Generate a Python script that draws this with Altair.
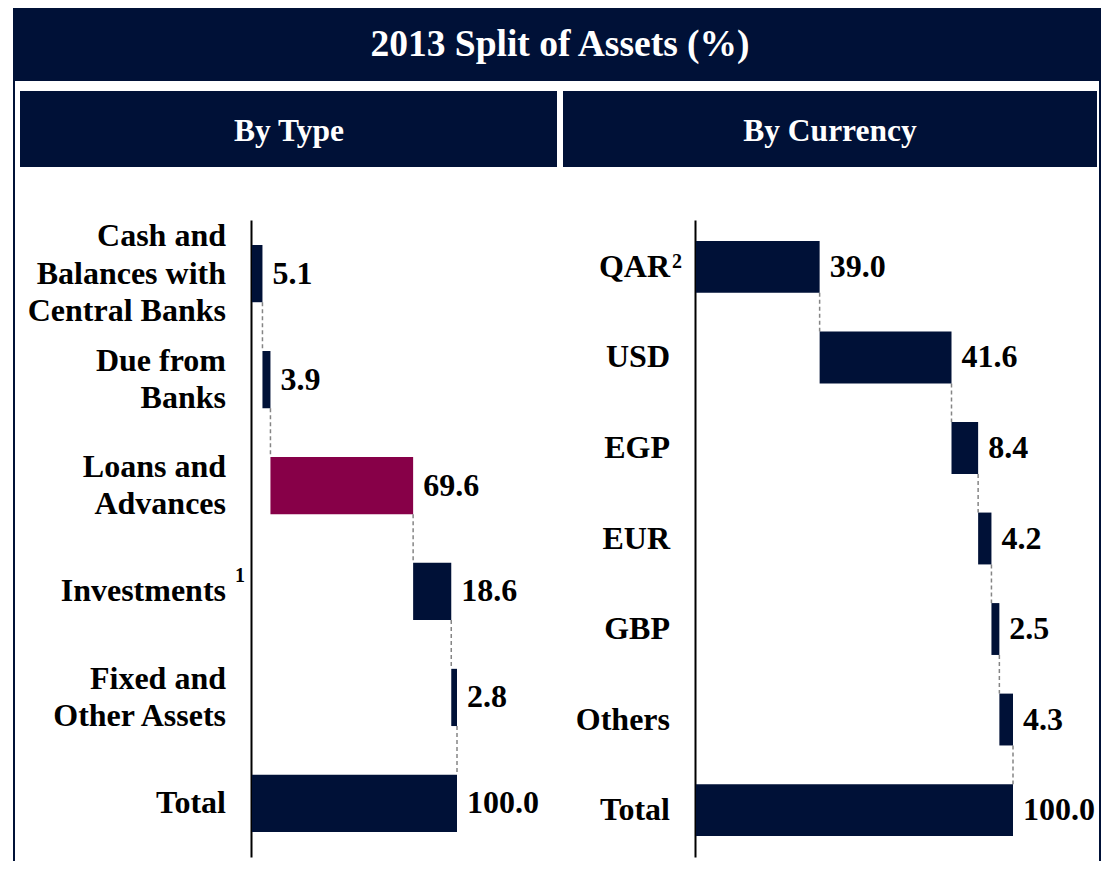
import altair as alt
import pandas as pd

# ---------------- data ----------------
type_keys = ["Cash", "Due", "Loans", "Investments", "Fixed", "Total"]
type_labels = [
    "Cash and\u00a0\nBalances with\u00a0\nCentral Banks",
    "Due from\u00a0\nBanks",
    "Loans and\u00a0\nAdvances",
    "Investments",
    "Fixed and\u00a0\nOther Assets",
    "Total",
]
type_values = [5.1, 3.9, 69.6, 18.6, 2.8, 100.0]
type_sups = ["", "", "", "1", "", ""]

cur_keys = ["QAR", "USD", "EGP", "EUR", "GBP", "Others", "Total"]
cur_labels = ["QAR", "USD", "EGP", "EUR", "GBP", "Others", "Total"]
cur_values = [39.0, 41.6, 8.4, 4.2, 2.5, 4.3, 100.0]
cur_sups = ["2", "", "", "", "", "", ""]

title_text = "2013 Split of Assets (%)"
left_header = "By Type"
right_header = "By Currency"

NAVY = "#001137"
MAROON = "#870048"
FONT = "Liberation Serif"
LABEL_SIZE = 32
LINE_H = 37.5


def waterfall_table(keys, labels, values, sups):
    rows = []
    cum = 0.0
    n = len(keys)
    for i in range(n):
        if i == n - 1:
            start, end = 0.0, values[i]
        else:
            start, end = cum, cum + values[i]
            cum = end
        rows.append(dict(key=keys[i], label=labels[i], value=values[i],
                         start=round(start, 4), end=round(end, 4), sup=sups[i],
                         nlines=labels[i].count("\n") + 1,
                         next=keys[i + 1] if i < n - 1 else None))
    return pd.DataFrame(rows)


def panel(df, keys, x_range, y_range, pad_in, pad_out, axis_offset,
          highlight, sup_dx, sup_dy):
    base = alt.Chart(df).transform_calculate(zero="0")
    y_scale = alt.Scale(domain=keys, range=y_range,
                        paddingInner=pad_in, paddingOuter=pad_out)
    y_axis = alt.Axis(orient="left", offset=axis_offset, labels=False,
                      ticks=False, title=None, domain=True,
                      domainColor="#000000", domainWidth=2, grid=False)
    x_scale = alt.Scale(domain=[0, 100], range=x_range, nice=False)

    def Y(**kw):
        return alt.Y("key:N", scale=y_scale, axis=y_axis, **kw)

    def X(f):
        return alt.X(f, scale=x_scale, axis=None)

    rules = base.transform_filter("isValid(datum.next)").mark_rule(
        color="#858585", strokeDash=[4, 3], strokeWidth=1.5
    ).encode(
        x=X("end:Q"),
        y=Y(bandPosition=1),
        y2=alt.Y2("next:N", bandPosition=0),
    )
    bars = base.mark_bar().encode(
        x=X("start:Q"),
        x2="end:Q",
        y=Y(),
        color=alt.condition(alt.datum.key == highlight,
                            alt.value(MAROON), alt.value(NAVY)),
    )
    vals = base.mark_text(
        align="left", baseline="middle", dx=10, font=FONT,
        fontWeight="bold", fontSize=LABEL_SIZE, color="#000000"
    ).encode(
        x=X("end:Q"), y=Y(),
        text=alt.Text("value:Q", format=".1f"),
    )
    cat_layers = []
    for c in sorted(set(df["nlines"])):
        cat_layers.append(
            base.transform_filter(f"datum.nlines == {c}").mark_text(
                align="right", baseline="middle", dx=-26,
                dy=-(c - 1) / 2 * LINE_H, font=FONT,
                fontWeight="bold", fontSize=LABEL_SIZE, lineBreak="\n",
                lineHeight=LINE_H, color="#000000"
            ).encode(x=X("zero:Q"), y=Y(), text="label:N")
        )
    sups = base.transform_filter("datum.sup != ''").mark_text(
        align="center", baseline="middle", dx=sup_dx, dy=sup_dy, font=FONT,
        fontWeight="bold", fontSize=20, color="#000000"
    ).encode(
        x=X("zero:Q"), y=Y(), text="sup:N",
    )
    return alt.layer(rules, bars, vals, *cat_layers, sups)


type_df = waterfall_table(type_keys, type_labels, type_values, type_sups)
cur_df = waterfall_table(cur_keys, cur_labels, cur_values, cur_sups)

W, H = 1093, 853

left = panel(type_df, type_keys, [244, 449], [212, 849], 0.46, 0.236, -243,
             "Loans", -12, -15)
right = panel(cur_df, cur_keys, [688, 1005], [212, 849], 0.427, 0.232, -687,
              "", -19, -5)

dummy = pd.DataFrame({"d": [0]})


def box(x1, x2, y1, y2, color):
    return alt.Chart(dummy).mark_rect(color=color).encode(
        x=alt.value(x1), x2=alt.value(x2), y=alt.value(y1), y2=alt.value(y2))


def vline(x, y1, y2, color, w):
    return alt.Chart(dummy).mark_rule(color=color, strokeWidth=w).encode(
        x=alt.value(x), y=alt.value(y1), y2=alt.value(y2))


def label(text, x, y, size):
    return alt.Chart(dummy).mark_text(
        text=text, font=FONT, fontWeight="bold", fontSize=size,
        color="#ffffff", align="center", baseline="middle"
    ).encode(x=alt.value(x), y=alt.value(y))


deco = [
    box(6, 1093, 0, 73, NAVY),
    vline(6, 0, H, NAVY, 2),
    vline(1092, 73, H, NAVY, 2),
    box(12, 549, 83, 159, NAVY),
    box(555, 1089, 83, 159, NAVY),
    label(title_text, 552, 37, 37.5),
    label(left_header, 281, 124, 31.5),
    label(right_header, 822, 124, 31.5),
]

chart = alt.layer(*deco, left, right).resolve_scale(
    x="independent", y="independent"
).properties(
    width=W, height=H, padding=0, autosize="none"
).configure_view(strokeWidth=0)

chart.save("out.html", embed_options={"renderer": "svg", "actions": False})
